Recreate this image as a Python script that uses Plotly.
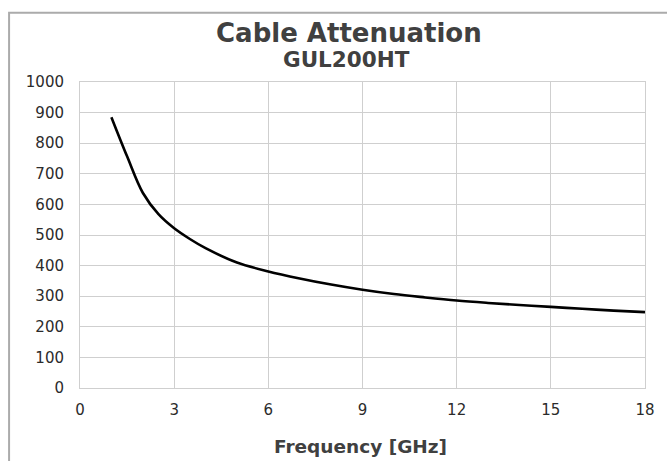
import plotly.graph_objects as go

freq_ghz = [1, 1.5, 2, 2.5, 3, 3.5, 4, 5, 6, 7, 8, 9, 10, 11, 12, 13, 14, 15, 16, 17, 18]
attenuation = [885, 757, 638, 568, 522, 487, 457, 410, 381, 358, 338, 321, 307, 296, 286, 278, 271, 265, 259, 253, 248]

x_ticks = [0, 3, 6, 9, 12, 15, 18]
y_ticks = [0, 100, 200, 300, 400, 500, 600, 700, 800, 900, 1000]

title_text = "Cable Attenuation"
subtitle_text = "GUL200HT"
x_title = "Frequency [GHz]"

W, H = 667, 461
L, R, T, B = 80, 15, 82, 73
pw, ph = W - L - R, H - T - B

def px(xp):
    return (xp - L) / pw

def py(yp):
    return (H - B - yp) / ph

FONT = "DejaVu Sans, Verdana, sans-serif"

fig = go.Figure()
fig.add_trace(go.Scatter(
    x=freq_ghz, y=attenuation, mode="lines",
    line=dict(color="black", width=2.6, shape="spline", smoothing=1.0),
    hoverinfo="skip", showlegend=False,
))

grid = "#cfcfcf"
tickfont = dict(family=FONT, size=15, color="#2b2b2b")

fig.update_layout(
    width=W, height=H,
    margin=dict(l=L, r=R, t=T, b=B),
    paper_bgcolor="white", plot_bgcolor="white",
    showlegend=False,
    xaxis=dict(range=[0, 18], tickvals=x_ticks, ticktext=[str(v) for v in x_ticks],
               showgrid=True, gridcolor=grid, gridwidth=1, zeroline=False,
               showline=True, linecolor=grid, linewidth=1, mirror=True,
               ticks="", ticklen=0, tickfont=tickfont, ticklabelstandoff=8),
    yaxis=dict(range=[0, 1000], tickvals=y_ticks, ticktext=[str(v) for v in y_ticks],
               showgrid=True, gridcolor=grid, gridwidth=1, zeroline=False,
               showline=True, linecolor=grid, linewidth=1, mirror=True,
               ticks="", ticklen=0, tickfont=tickfont, ticklabelstandoff=12),
)

fig.add_annotation(text="<b>" + title_text + "</b>", xref="paper", yref="paper",
                   x=px(352), y=py(33), showarrow=False, xanchor="center", yanchor="middle",
                   font=dict(family=FONT, size=26, color="#404040"))
fig.add_annotation(text="<b>" + subtitle_text + "</b>", xref="paper", yref="paper",
                   x=px(350), y=py(59), showarrow=False, xanchor="center", yanchor="middle",
                   font=dict(family=FONT, size=21.5, color="#404040"))
fig.add_annotation(text="<b>" + x_title + "</b>", xref="paper", yref="paper",
                   x=px(364), y=py(446), showarrow=False, xanchor="center", yanchor="middle",
                   font=dict(family=FONT, size=18.5, color="#404040"))

fig.add_shape(type="rect", xref="paper", yref="paper",
              x0=px(8.2), x1=px(720), y0=py(520), y1=py(12.7),
              line=dict(color="#ababab", width=2), fillcolor="rgba(0,0,0,0)", layer="below")

fig.write_html("out.html", config={"displayModeBar": False},
               post_script="document.body.style.margin='0';document.body.style.overflow='hidden';")
